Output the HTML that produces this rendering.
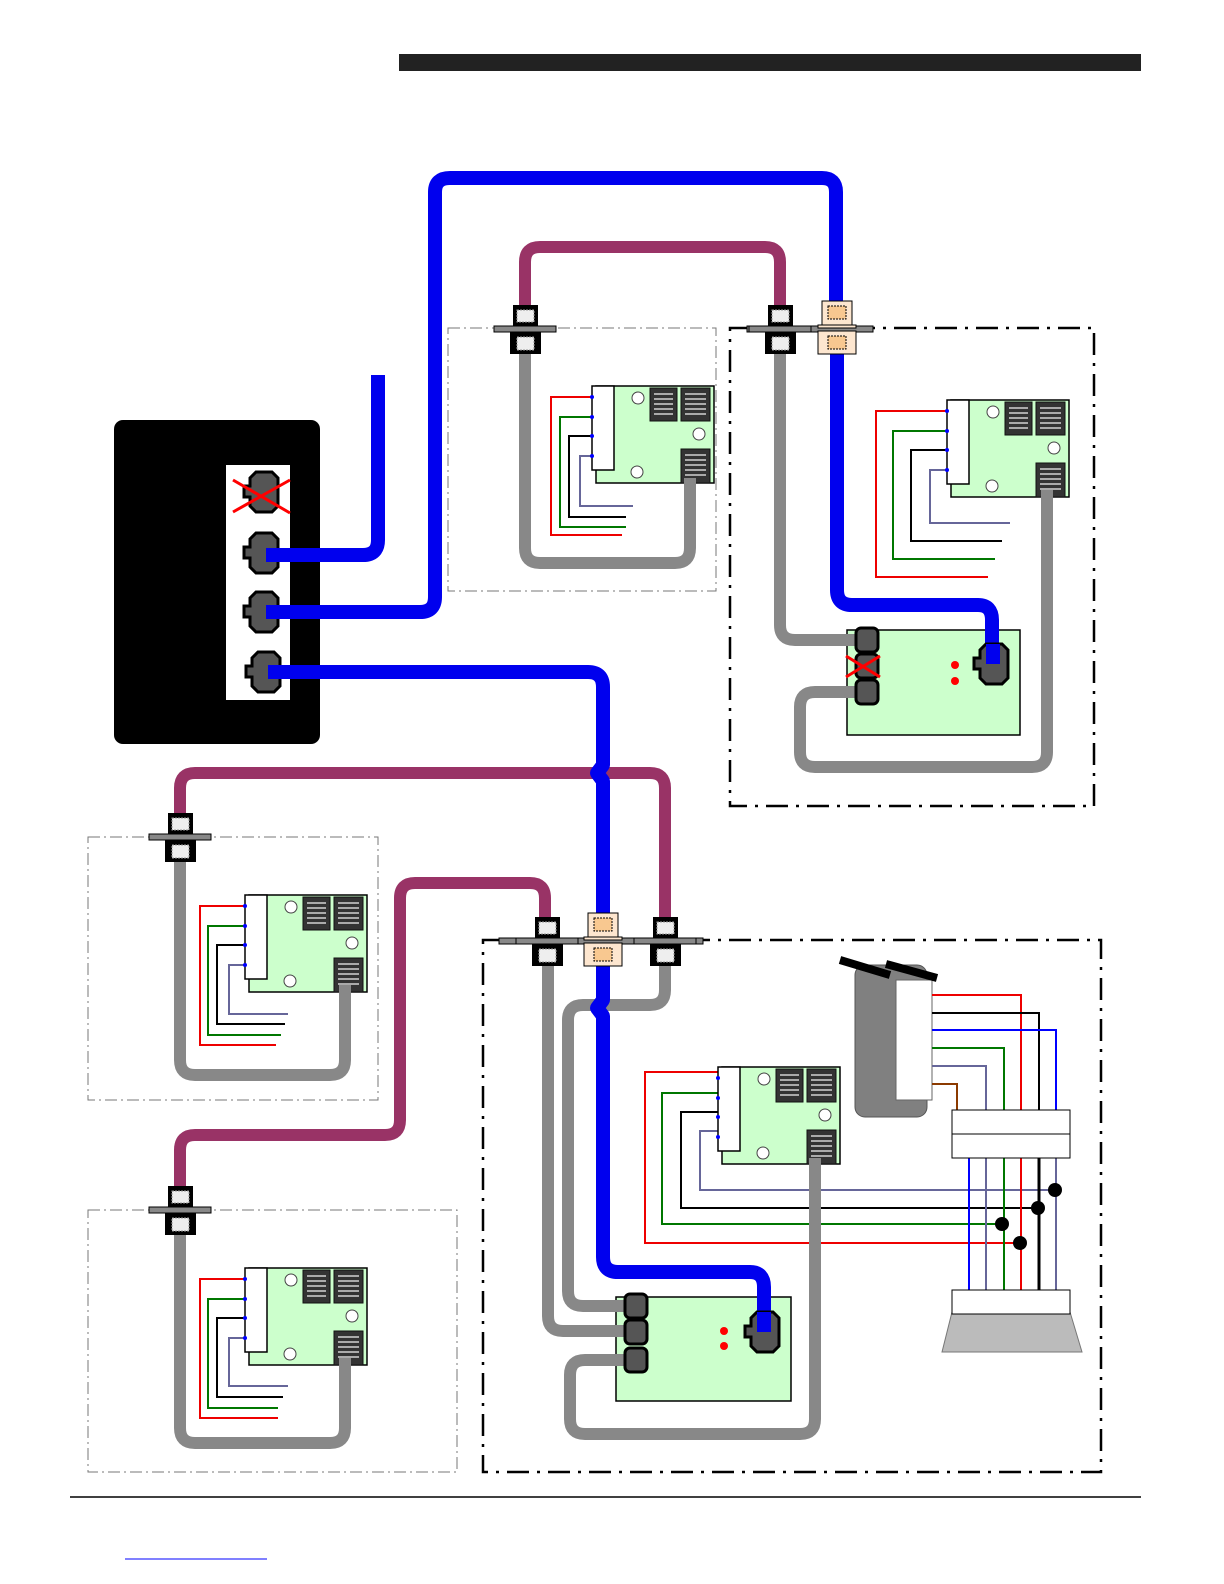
<!DOCTYPE html>
<html><head><meta charset="utf-8"><style>html,body{margin:0;padding:0;background:#fff;width:1224px;height:1584px;overflow:hidden}svg{display:block;position:absolute;left:0;top:0}</style></head>
<body>
<svg width="1224" height="1584" viewBox="0 0 1224 1584" xmlns="http://www.w3.org/2000/svg">
<defs>
<g id="board">
  <rect x="4" y="0" width="118" height="97" fill="#ccffcc" stroke="#000" stroke-width="1.5"/>
  <rect x="0" y="0" width="22" height="84" fill="#fff" stroke="#000" stroke-width="1.5"/>
  <g fill="#333" stroke="#111" stroke-width="1">
    <rect x="58" y="2" width="27" height="33"/><rect x="89" y="2" width="29" height="33"/><rect x="89" y="63" width="29" height="34"/>
  </g>
  <g stroke="#aaa" stroke-width="2">
    <path d="M62 8h19M62 13h19M62 18h19M62 23h19M62 28h19"/>
    <path d="M93 8h21M93 13h21M93 18h21M93 23h21M93 28h21"/>
    <path d="M93 69h21M93 74h21M93 79h21M93 84h21M93 89h21"/>
  </g>
  <g fill="#fff" stroke="#444" stroke-width="1"><circle cx="46" cy="12" r="6"/><circle cx="107" cy="48" r="6"/><circle cx="45" cy="86" r="6"/></g>
  <g fill="#00f"><circle cx="0" cy="11" r="2"/><circle cx="0" cy="31" r="2"/><circle cx="0" cy="50" r="2"/><circle cx="0" cy="70" r="2"/></g>
</g>
<g id="jack">
  <polygon points="-8,-20 8,-20 14,-14 14,14 8,20 -8,20 -14,14 -14,5 -20,5 -20,-6 -14,-6 -14,-14" fill="#555" stroke="#000" stroke-width="3"/>
</g>
<g id="sj"><rect x="-11" y="-12" width="22" height="24" rx="5" fill="#555" stroke="#000" stroke-width="3"/></g>
<g id="feed">
  <rect x="-31" y="-3" width="62" height="6" fill="#888" stroke="#000" stroke-width="1"/>
  <rect x="-12" y="-24" width="25" height="21" fill="#000"/>
  <rect x="-8" y="-19" width="17" height="12" fill="#eee" stroke="#999" stroke-dasharray="2,1"/>
  <rect x="-15" y="3" width="31" height="22" fill="#000"/>
  <rect x="-8" y="8" width="17" height="13" fill="#eee" stroke="#999" stroke-dasharray="2,1"/>
</g>
<g id="adapt">
  <rect x="-15" y="-27" width="30" height="26" fill="#fde6cf" stroke="#000" stroke-width="1"/>
  <rect x="-9" y="-22" width="18" height="13" fill="#f8c890" stroke="#000" stroke-width="1" stroke-dasharray="2,1"/>
  <rect x="-19" y="-3" width="38" height="3" fill="#fde6cf" stroke="#000" stroke-width="1"/>
  <rect x="-19" y="3" width="38" height="23" fill="#fde6cf" stroke="#000" stroke-width="1"/>
  <rect x="-9" y="8" width="18" height="13" fill="#f8c890" stroke="#000" stroke-width="1" stroke-dasharray="2,1"/>
</g>
</defs>

<rect x="399" y="54" width="742" height="17" fill="#222"/>
<line x1="70" y1="1497" x2="1141" y2="1497" stroke="#000" stroke-width="1.5"/>
<line x1="125" y1="1559" x2="267" y2="1559" stroke="#00f" stroke-width="1"/>

<g fill="none" stroke="#777" stroke-width="1" stroke-dasharray="12,4,2,4">
  <rect x="448" y="328" width="268" height="263"/>
  <rect x="88" y="837" width="290" height="263"/>
  <rect x="88" y="1210" width="369" height="262"/>
</g>
<g fill="none" stroke="#000" stroke-width="2.5" stroke-dasharray="22,8,3,8">
  <rect x="730" y="328" width="364" height="478"/>
  <rect x="483" y="940" width="618" height="532"/>
</g>

<rect x="114" y="420" width="206" height="324" rx="9" fill="#000"/>
<rect x="226" y="465" width="64" height="235" fill="#fff"/>
<use href="#jack" x="264" y="492"/>
<use href="#jack" x="264" y="553"/>
<use href="#jack" x="264" y="612"/>
<use href="#jack" x="266" y="672"/>
<path d="M233 480L290 513M233 512L290 480" stroke="#f00" stroke-width="3"/>

<g fill="none" stroke-width="2">
  <path d="M592 397H551V535H622" stroke="#e00"/>
  <path d="M592 417H560V527H626" stroke="#070"/>
  <path d="M592 436H569V517H626" stroke="#000"/>
  <path d="M592 456H580V506H633" stroke="#669"/>

  <path d="M947 411H876V577H988" stroke="#e00"/>
  <path d="M947 431H893V559H995" stroke="#070"/>
  <path d="M947 450H911V541H1002" stroke="#000"/>
  <path d="M947 470H930V523H1010" stroke="#669"/>

  <path d="M245 906H200V1045H276" stroke="#e00"/>
  <path d="M245 926H208V1035H281" stroke="#070"/>
  <path d="M245 945H217V1024H285" stroke="#000"/>
  <path d="M245 965H229V1014H288" stroke="#669"/>

  <path d="M245 1279H200V1418H278" stroke="#e00"/>
  <path d="M245 1299H208V1408H278" stroke="#070"/>
  <path d="M245 1318H217V1397H283" stroke="#000"/>
  <path d="M245 1338H229V1386H288" stroke="#669"/>

  <path d="M718 1072H645V1243H1020" stroke="#e00"/>
  <path d="M718 1093H662V1224H1002" stroke="#070"/>
  <path d="M718 1112H681V1208H1038" stroke="#000"/>
  <path d="M718 1131H700V1190H1055" stroke="#669"/>
</g>
<use href="#board" x="592" y="386"/>
<use href="#board" x="947" y="400"/>
<use href="#board" x="245" y="895"/>
<use href="#board" x="245" y="1268"/>
<use href="#board" x="718" y="1067"/>

<rect x="855" y="965" width="72" height="152" rx="10" fill="#808080" stroke="#555"/>
<rect x="896" y="980" width="36" height="120" fill="#fff" stroke="#666"/>
<path d="M840 960L890 975M886 964L937 978" stroke="#000" stroke-width="8"/>
<g fill="none" stroke-width="2">
  <path d="M932 995H1021V1112" stroke="#e00"/>
  <path d="M932 1013H1039V1112" stroke="#000"/>
  <path d="M932 1030H1056V1112" stroke="#00f"/>
  <path d="M932 1048H1004V1112" stroke="#070"/>
  <path d="M932 1066H986V1112" stroke="#669"/>
  <path d="M932 1084H957V1112" stroke="#8b3a00"/>
  <path d="M969 1158V1290" stroke="#00f"/>
  <path d="M986 1158V1290" stroke="#669"/>
  <path d="M1004 1158V1290" stroke="#070"/>
  <path d="M1021 1158V1290" stroke="#e00"/>
  <path d="M1039 1158V1290" stroke="#000" stroke-width="3"/>
  <path d="M1056 1158V1290" stroke="#669"/>
</g>
<g fill="#000" stroke="none"><circle cx="1055" cy="1190" r="7"/><circle cx="1038" cy="1208" r="7"/><circle cx="1002" cy="1224" r="7"/><circle cx="1020" cy="1243" r="7"/></g>
<rect x="952" y="1110" width="118" height="48" fill="#fff" stroke="#000"/>
<line x1="952" y1="1134" x2="1070" y2="1134" stroke="#000"/>
<polygon points="952,1312 1070,1312 1082,1352 942,1352" fill="#bbb" stroke="#777"/>
<rect x="952" y="1290" width="118" height="24" fill="#fff" stroke="#000"/>

<rect x="847" y="630" width="173" height="105" fill="#ccffcc" stroke="#000" stroke-width="1.5"/>
<rect x="616" y="1297" width="175" height="104" fill="#ccffcc" stroke="#000" stroke-width="1.5"/>
<g fill="#f00"><circle cx="955" cy="665" r="4"/><circle cx="955" cy="681" r="4"/><circle cx="724" cy="1331" r="4"/><circle cx="724" cy="1346" r="4"/></g>

<g fill="none" stroke-linecap="butt" stroke-linejoin="round">
  <g stroke="#993366" stroke-width="12">
    <path d="M525 306V262Q525 247 540 247H765Q780 247 780 262V306"/>
    <path d="M180 814V788Q180 773 195 773H650Q665 773 665 788V918"/>
    <path d="M180 1187V1150Q180 1135 195 1135H385Q400 1135 400 1120V898Q400 883 415 883H530Q545 883 545 898V918"/>
  </g>
  <g stroke="#888" stroke-width="12">
    <path d="M525 352V548Q525 563 540 563H675Q690 563 690 548V478"/>
    <path d="M780 352V625Q780 640 795 640H862"/>
    <path d="M862 692H815Q800 692 800 707V752Q800 767 815 767H1032Q1047 767 1047 752V490"/>
    <path d="M180 862V1060Q180 1075 195 1075H330Q345 1075 345 1060V985"/>
    <path d="M180 1235V1428Q180 1443 195 1443H330Q345 1443 345 1428V1358"/>
    <path d="M548 965V1316Q548 1331 563 1331H632"/>
    <path d="M665 965V990Q665 1005 650 1005H583Q568 1005 568 1020V1291Q568 1306 583 1306H632"/>
    <path d="M632 1360H585Q570 1360 570 1375V1419Q570 1434 585 1434H800Q815 1434 815 1419V1158"/>
  </g>
  <g stroke="#0000ee" stroke-width="14">
    <path d="M378 375V540Q378 555 363 555H266"/>
    <path d="M266 612H420Q435 612 435 597V192Q435 178 450 178H822Q836 178 836 192V302"/>
    <path d="M837 352V590Q837 605 852 605H978Q992 605 992 620V662"/>
    <path d="M268 672H588Q603 672 603 687V765L597 773L603 781V918"/>
    <path d="M603 965V1000L597 1008L603 1016V1257Q603 1272 618 1272H750Q764 1272 764 1287V1332"/>
  </g>
</g>

<use href="#sj" x="867" y="640"/>
<use href="#sj" x="867" y="666"/>
<use href="#sj" x="867" y="692"/>
<path d="M846 656L880 677M846 677L880 656" stroke="#f00" stroke-width="3"/>
<use href="#jack" x="994" y="664"/>
<rect x="986" y="644" width="14" height="20" fill="#00e"/>
<use href="#sj" x="636" y="1306"/>
<use href="#sj" x="636" y="1332"/>
<use href="#sj" x="636" y="1360"/>
<use href="#jack" x="765" y="1332"/>
<rect x="757" y="1312" width="14" height="20" fill="#00e"/>

<use href="#feed" x="525" y="329"/>
<rect x="747" y="326" width="126" height="6" fill="#888" stroke="#000" stroke-width="1"/>
<use href="#feed" x="780" y="329"/>
<use href="#adapt" x="837" y="328"/>
<use href="#feed" x="180" y="837"/>
<use href="#feed" x="180" y="1210"/>
<rect x="499" y="938" width="204" height="6" fill="#888" stroke="#000" stroke-width="1"/>
<use href="#feed" x="547" y="941"/>
<use href="#feed" x="665" y="941"/>
<use href="#adapt" x="603" y="940"/>
</svg>
</body></html>
